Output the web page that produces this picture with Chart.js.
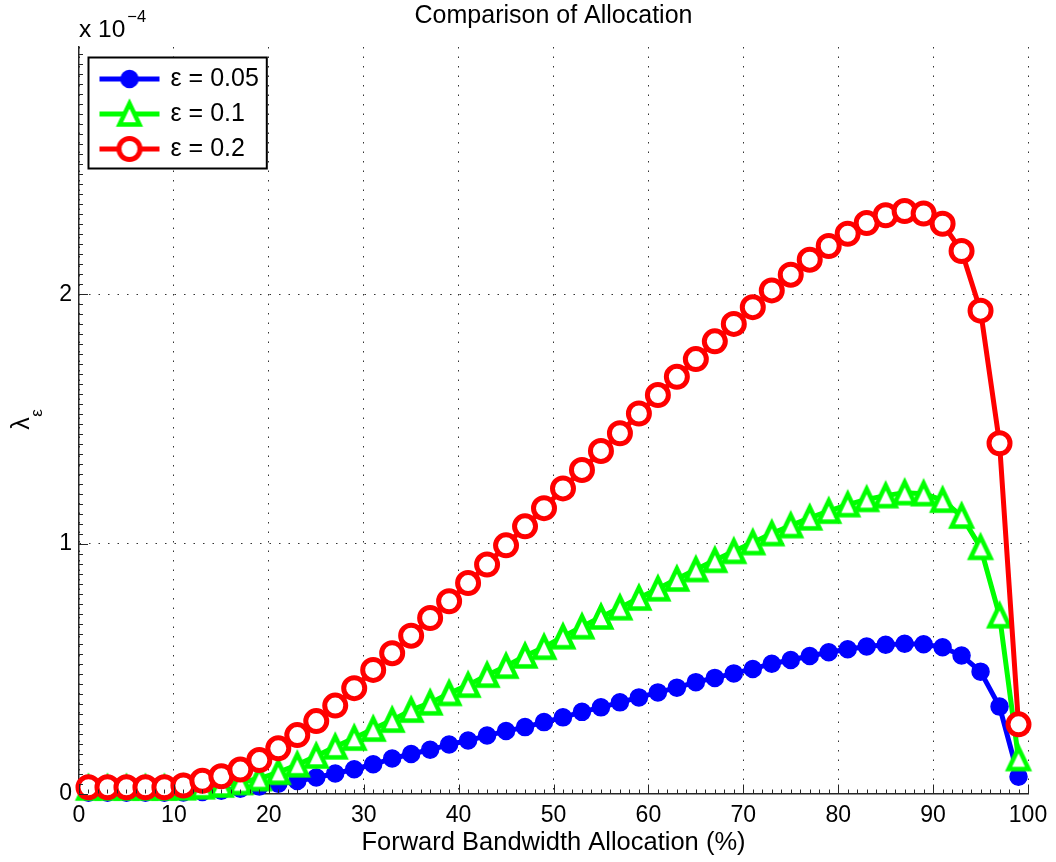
<!DOCTYPE html>
<html>
<head>
<meta charset="utf-8">
<script src="https://cdn.jsdelivr.net/npm/chart.js@4.4.1/dist/chart.umd.min.js"></script>
<style>
  html, body { margin: 0; padding: 0; background: #ffffff; }
  #wrap { width: 1056px; height: 862px; }
</style>
</head>
<body>
<div id="wrap"><canvas id="c" width="1056" height="862"></canvas></div>
<script>
// ---------------- data (y values in units of 1e-4) ----------------
const titleText = 'Comparison of Allocation';
const xAxisLabel = 'Forward Bandwidth Allocation (%)';
const yAxisSymbol = 'λ';
const yAxisSubscript = 'ε';
const yMultiplierBase = 'x 10';
const yMultiplierExp = '−4';

const xValues = [1, 3, 5, 7, 9, 11, 13, 15, 17, 19,
                 21, 23, 25, 27, 29, 31, 33, 35, 37, 39,
                 41, 43, 45, 47, 49, 51, 53, 55, 57, 59,
                 61, 63, 65, 67, 69, 71, 73, 75, 77, 79,
                 81, 83, 85, 87, 89, 91, 93, 95, 97, 99];

const seriesLabels = ['ε = 0.05', 'ε = 0.1', 'ε = 0.2'];

const eps005 = [0.003, 0.003, 0.003, 0.003, 0.003,
                0.004, 0.006, 0.011, 0.019, 0.028,
                0.039, 0.050, 0.064, 0.080, 0.097,
                0.117, 0.140, 0.158, 0.175, 0.196,
                0.212, 0.232, 0.250, 0.266, 0.286,
                0.305, 0.327, 0.345, 0.365, 0.385,
                0.405, 0.424, 0.446, 0.463, 0.481,
                0.499, 0.520, 0.535, 0.551, 0.566,
                0.578, 0.589, 0.596, 0.600, 0.598,
                0.586, 0.553, 0.488, 0.348, 0.067];

const eps01 = [0.022, 0.022, 0.022, 0.022, 0.022,
               0.023, 0.027, 0.034, 0.044, 0.060,
               0.085, 0.115, 0.150, 0.187, 0.222,
               0.258, 0.294, 0.334, 0.363, 0.401,
               0.434, 0.474, 0.510, 0.551, 0.586,
               0.628, 0.668, 0.707, 0.744, 0.783,
               0.820, 0.859, 0.897, 0.934, 0.970,
               1.005, 1.041, 1.073, 1.104, 1.131,
               1.157, 1.178, 1.193, 1.205, 1.201,
               1.175, 1.111, 0.986, 0.712, 0.140];

const eps02 = [0.025, 0.025, 0.025, 0.025, 0.025,
               0.032, 0.051, 0.069, 0.096, 0.134,
               0.181, 0.234, 0.290, 0.352, 0.422,
               0.495, 0.562, 0.632, 0.703, 0.770,
               0.843, 0.917, 0.994, 1.070, 1.143,
               1.222, 1.296, 1.372, 1.443, 1.522,
               1.596, 1.669, 1.740, 1.811, 1.881,
               1.948, 2.015, 2.078, 2.138, 2.193,
               2.242, 2.285, 2.316, 2.333, 2.323,
               2.282, 2.173, 1.934, 1.403, 0.277];

const xTicks = [0, 10, 20, 30, 40, 50, 60, 70, 80, 90, 100];
const yTicks = [0, 1, 2];

// ---------------- style ----------------
const FONT = '"Liberation Sans", Arial, Helvetica, sans-serif';
const AXIS_COLOR = '#262626';
const COLORS = ['#0000ff', '#00ff00', '#ff0000'];

Chart.defaults.font.family = FONT;
Chart.defaults.color = '#000000';

// MATLAB-like upward triangle marker (taller than equilateral), centred on its box
function triangleMarker(color) {
  const c = document.createElement('canvas');
  c.width = 36; c.height = 36;
  const g = c.getContext('2d');
  g.fillStyle = '#ffffff'; g.strokeStyle = color; g.lineWidth = 4.5; g.lineJoin = 'miter';
  g.beginPath();
  g.moveTo(18, 7.5); g.lineTo(28, 28.5); g.lineTo(8, 28.5); g.closePath();
  g.fill(); g.stroke();
  return c;
}

function legendImage(color, marker, radius, bw, fill) {
  const c = document.createElement('canvas');
  c.width = 62; c.height = 36;
  const g = c.getContext('2d');
  g.strokeStyle = color; g.lineWidth = 5;
  g.beginPath(); g.moveTo(1, 18); g.lineTo(61, 18); g.stroke();
  if (marker === 'circle') {
    g.fillStyle = fill; g.lineWidth = bw;
    g.beginPath(); g.arc(31, 18, radius, 0, Math.PI * 2); g.fill(); g.stroke();
  } else {
    g.drawImage(marker, 31 - marker.width / 2, 18 - marker.height / 2);
  }
  return c;
}

function toPoints(ys) { return xValues.map((x, i) => ({ x: x, y: ys[i] })); }

const triGreen = triangleMarker(COLORS[1]);

const datasets = [
  { label: seriesLabels[0], data: toPoints(eps005), borderColor: COLORS[0], backgroundColor: COLORS[0],
    borderWidth: 5, pointStyle: 'circle', pointRadius: 8.5, pointBorderWidth: 1.5,
    pointBackgroundColor: COLORS[0], pointBorderColor: COLORS[0], order: 2,
    legendImg: legendImage(COLORS[0], 'circle', 8.5, 1.5, COLORS[0]) },
  { label: seriesLabels[1], data: toPoints(eps01), borderColor: COLORS[1], backgroundColor: '#ffffff',
    borderWidth: 5, pointStyle: triGreen, pointRadius: 13, pointBorderWidth: 4.5,
    pointBackgroundColor: '#ffffff', pointBorderColor: COLORS[1], order: 1,
    legendImg: legendImage(COLORS[1], triGreen, 0, 0, '#ffffff') },
  { label: seriesLabels[2], data: toPoints(eps02), borderColor: COLORS[2], backgroundColor: '#ffffff',
    borderWidth: 5, pointStyle: 'circle', pointRadius: 10.5, pointBorderWidth: 5,
    pointBackgroundColor: '#ffffff', pointBorderColor: COLORS[2], order: 0,
    legendImg: legendImage(COLORS[2], 'circle', 10.5, 5, '#ffffff') }
];
datasets.forEach(d => { d.tension = 0; d.clip = false; d.fill = false; d.borderJoinStyle = 'round'; });

const LEGEND_FONT = 25;
const LEGEND_PAD = 10;

const decorPlugin = {
  id: 'decor',
  afterLayout(chart) {
    const lg = chart.legend;
    if (lg) { lg.left = 91; lg.top = 56.5; }
  },
  afterDraw(chart) {
    const ctx = chart.ctx, ca = chart.chartArea;
    const xs = chart.scales.x, ys = chart.scales.y;
    ctx.save();
    // inward tick marks (major + minor)
    ctx.strokeStyle = AXIS_COLOR;
    ctx.lineWidth = 1;
    ctx.beginPath();
    for (const v of xTicks) {
      const px = Math.round(xs.getPixelForValue(v)) + 0.5;
      ctx.moveTo(px, ca.bottom); ctx.lineTo(px, ca.bottom - 9);
    }
    for (let k = 1; k < 100; k++) {
      const px = Math.round(xs.getPixelForValue(k)) + 0.5;
      ctx.moveTo(px, ca.bottom); ctx.lineTo(px, ca.bottom - 4);
    }
    for (const v of yTicks) {
      const py = Math.round(ys.getPixelForValue(v)) + 0.5;
      ctx.moveTo(ca.left, py); ctx.lineTo(ca.left + 9, py);
    }
    for (let k = 1; k * 0.04 <= ys.max; k++) {
      const py = Math.round(ys.getPixelForValue(k * 0.04)) + 0.5;
      ctx.moveTo(ca.left, py); ctx.lineTo(ca.left + 4, py);
    }
    ctx.stroke();

    // exponent multiplier
    ctx.fillStyle = '#000';
    ctx.textAlign = 'left';
    ctx.textBaseline = 'alphabetic';
    ctx.font = '24.5px ' + FONT;
    ctx.fillText(yMultiplierBase, ca.left, 36.5);
    const wBase = ctx.measureText(yMultiplierBase).width;
    ctx.font = '16.5px ' + FONT;
    ctx.fillText(yMultiplierExp, ca.left + wBase + 2, 22);

    // y-axis title: lambda with subscript epsilon (rotated)
    ctx.textAlign = 'center';
    ctx.textBaseline = 'middle';
    ctx.save();
    ctx.translate(22.5, 423.5); ctx.rotate(-Math.PI / 2);
    ctx.font = '25px ' + FONT;
    ctx.fillText(yAxisSymbol, 0, 0);
    ctx.restore();
    ctx.save();
    ctx.translate(37.5, 413); ctx.rotate(-Math.PI / 2);
    ctx.font = '17px ' + FONT;
    ctx.fillText(yAxisSubscript, 0, 0);
    ctx.restore();

    // legend frame, then legend on top
    const lg = chart.legend;
    if (lg && lg.legendItems && lg.legendItems.length) {
      ctx.font = LEGEND_FONT + 'px ' + FONT;
      let maxW = 0;
      lg.legendItems.forEach(it => { maxW = Math.max(maxW, ctx.measureText(it.text).width); });
      const textX = lg.left + LEGEND_PAD + 57 + LEGEND_FONT / 2;
      const n = lg.legendItems.length;
      const L = lg.left - 2.5, T = lg.top + 1;
      const R = textX + maxW + 8;
      const B = lg.top + LEGEND_PAD + n * (LEGEND_FONT + LEGEND_PAD) - 3;
      ctx.fillStyle = '#ffffff';
      ctx.fillRect(L, T, R - L, B - T);
      ctx.strokeStyle = '#000000';
      ctx.lineWidth = 2;
      ctx.strokeRect(L, T, R - L, B - T);
      ctx.restore();
      lg.draw();
      return;
    }
    ctx.restore();
  }
};

new Chart(document.getElementById('c'), {
  type: 'line',
  data: { datasets: datasets },
  options: {
    responsive: false,
    animation: false,
    devicePixelRatio: 1,
    events: [],
    layout: { padding: { left: 0, right: 28, top: 0, bottom: 0 } },
    plugins: {
      tooltip: { enabled: false },
      title: {
        display: true, text: titleText, fullSize: false,
        font: { size: 25, weight: 'normal' }, color: '#000',
        padding: { top: 1, bottom: 16 }
      },
      legend: {
        display: true,
        position: 'chartArea',
        align: 'start',
        labels: {
          usePointStyle: true,
          pointStyleWidth: 57,
          padding: LEGEND_PAD,
          color: '#000',
          font: { size: LEGEND_FONT },
          generateLabels(chart) {
            return chart.data.datasets.map((d, i) => ({
              text: d.label, pointStyle: d.legendImg, fillStyle: d.borderColor,
              strokeStyle: d.borderColor, lineWidth: 0, hidden: false,
              datasetIndex: i, fontColor: '#000'
            }));
          }
        }
      }
    },
    scales: {
      x: {
        type: 'linear', min: 0, max: 100,
        afterBuildTicks(s) { s.ticks = xTicks.map(v => ({ value: v })); },
        afterFit(s) { s.height = 68.5; },
        ticks: { font: { size: 23 }, color: '#000', padding: 8, maxRotation: 0 },
        grid: { color: 'rgba(0,0,0,0.8)', lineWidth: 1, drawTicks: false },
        border: { display: true, color: AXIS_COLOR, width: 1.5, dash: [1.5, 8] },
        title: { display: true, text: xAxisLabel, font: { size: 25.5 }, color: '#000', padding: { top: 0, bottom: 4 } }
      },
      y: {
        type: 'linear', min: 0, max: 2.99,
        afterBuildTicks(s) { s.ticks = yTicks.map(v => ({ value: v })); },
        afterFit(s) { s.width = 79; },
        ticks: { font: { size: 23 }, color: '#000', padding: 7 },
        grid: { color: 'rgba(0,0,0,0.8)', lineWidth: 1, drawTicks: false },
        border: { display: true, color: AXIS_COLOR, width: 1.5, dash: [1.5, 8] },
        title: { display: false, text: 'λε' }
      }
    }
  },
  plugins: [decorPlugin]
});
</script>
</body>
</html>
